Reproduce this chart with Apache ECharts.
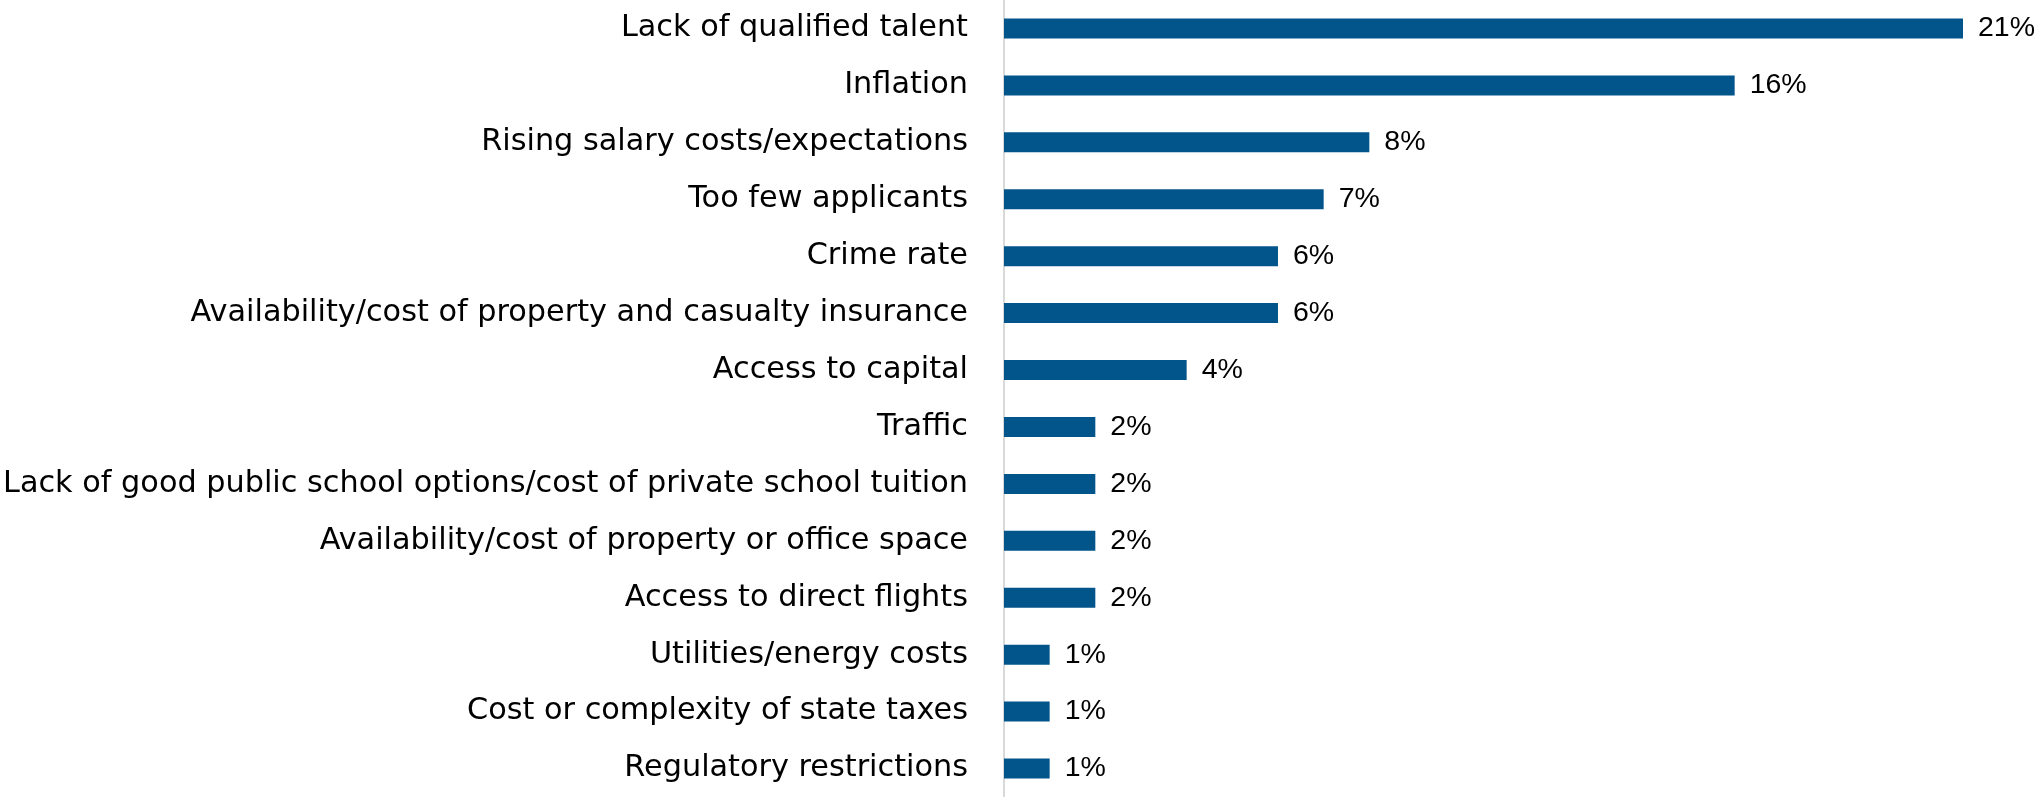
<!DOCTYPE html>
<html>
<head>
<meta charset="utf-8">
<title>Top challenges</title>
<script src="https://cdn.jsdelivr.net/npm/echarts@6/dist/echarts.min.js"></script>
<style>
  html, body { margin: 0; padding: 0; background: #ffffff; }
  #chart { width: 2034px; height: 797px; }
</style>
</head>
<body>
<div id="chart"></div>
<script>
// Challenges, listed from top to bottom
const categories = [
  'Lack of qualified talent',
  'Inflation',
  'Rising salary costs/expectations',
  'Too few applicants',
  'Crime rate',
  'Availability/cost of property and casualty insurance',
  'Access to capital',
  'Traffic',
  'Lack of good public school options/cost of private school tuition',
  'Availability/cost of property or office space',
  'Access to direct flights',
  'Utilities/energy costs',
  'Cost or complexity of state taxes',
  'Regulatory restrictions'
];

// Share of respondents, percent
const shares = [21, 16, 8, 7, 6, 6, 4, 2, 2, 2, 2, 1, 1, 1];

const CAT_FONT = '"DejaVu Sans", "Liberation Sans", sans-serif';
const VALUE_FONT = '"Liberation Sans", Arial, sans-serif';

const chart = echarts.init(document.getElementById('chart'), null, { renderer: 'canvas' });

chart.setOption({
  animation: false,
  backgroundColor: '#ffffff',
  grid: { left: 1003, right: 71, top: -6.4, bottom: -4.5, containLabel: false },
  xAxis: {
    type: 'value',
    min: 0,
    max: 21,
    show: false,
    splitLine: { show: false }
  },
  yAxis: {
    type: 'category',
    data: categories,
    inverse: true,
    axisTick: { show: false },
    axisLine: { show: true, lineStyle: { color: '#d9d9d9', width: 2 } },
    axisLabel: {
      margin: 36,
      color: '#000000',
      fontFamily: CAT_FONT,
      fontSize: 30.3
    }
  },
  series: [{
    type: 'bar',
    data: shares,
    barWidth: 20,
    itemStyle: { color: '#02558b' },
    label: {
      show: true,
      position: 'right',
      distance: 15,
      color: '#000000',
      fontFamily: VALUE_FONT,
      fontSize: 28.5,
      formatter: p => p.value + '%'
    }
  }]
});
</script>
</body>
</html>
